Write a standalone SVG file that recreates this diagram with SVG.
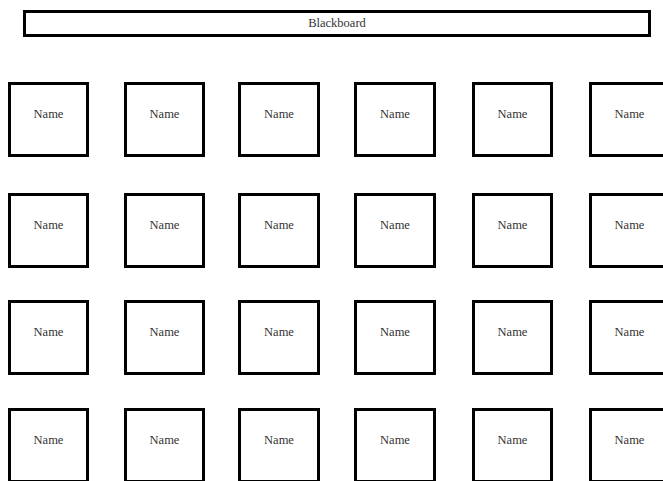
<svg xmlns="http://www.w3.org/2000/svg" width="663" height="481" viewBox="0 0 663 481">
<style>
.b{fill:#fff;stroke:#000;stroke-width:3}
.t{font-family:"Liberation Serif",serif;font-size:12.5px;fill:#333;text-anchor:middle}
</style>
<rect width="663" height="481" fill="#fff"/>
<g id="blackboard"><rect class="b" x="24.5" y="11.5" width="625" height="24" stroke-width="2.5"/><text class="t" x="337" y="27">Blackboard</text></g>
<g id="desks">
<g id="d11"><rect class="b" x="9.5" y="83.5" width="78" height="72"/><text class="t" x="48.5" y="117.5">Name</text></g>
<g id="d12"><rect class="b" x="125.5" y="83.5" width="78" height="72"/><text class="t" x="164.5" y="117.5">Name</text></g>
<g id="d13"><rect class="b" x="239.5" y="83.5" width="79" height="72"/><text class="t" x="279" y="117.5">Name</text></g>
<g id="d14"><rect class="b" x="355.5" y="83.5" width="79" height="72"/><text class="t" x="395" y="117.5">Name</text></g>
<g id="d15"><rect class="b" x="473.5" y="83.5" width="78" height="72"/><text class="t" x="512.5" y="117.5">Name</text></g>
<g id="d16"><rect class="b" x="590.5" y="83.5" width="78" height="72"/><text class="t" x="629.5" y="117.5">Name</text></g>
<g id="d21"><rect class="b" x="9.5" y="194.5" width="78" height="72"/><text class="t" x="48.5" y="228.5">Name</text></g>
<g id="d22"><rect class="b" x="125.5" y="194.5" width="78" height="72"/><text class="t" x="164.5" y="228.5">Name</text></g>
<g id="d23"><rect class="b" x="239.5" y="194.5" width="79" height="72"/><text class="t" x="279" y="228.5">Name</text></g>
<g id="d24"><rect class="b" x="355.5" y="194.5" width="79" height="72"/><text class="t" x="395" y="228.5">Name</text></g>
<g id="d25"><rect class="b" x="473.5" y="194.5" width="78" height="72"/><text class="t" x="512.5" y="228.5">Name</text></g>
<g id="d26"><rect class="b" x="590.5" y="194.5" width="78" height="72"/><text class="t" x="629.5" y="228.5">Name</text></g>
<g id="d31"><rect class="b" x="9.5" y="301.5" width="78" height="72"/><text class="t" x="48.5" y="335.5">Name</text></g>
<g id="d32"><rect class="b" x="125.5" y="301.5" width="78" height="72"/><text class="t" x="164.5" y="335.5">Name</text></g>
<g id="d33"><rect class="b" x="239.5" y="301.5" width="79" height="72"/><text class="t" x="279" y="335.5">Name</text></g>
<g id="d34"><rect class="b" x="355.5" y="301.5" width="79" height="72"/><text class="t" x="395" y="335.5">Name</text></g>
<g id="d35"><rect class="b" x="473.5" y="301.5" width="78" height="72"/><text class="t" x="512.5" y="335.5">Name</text></g>
<g id="d36"><rect class="b" x="590.5" y="301.5" width="78" height="72"/><text class="t" x="629.5" y="335.5">Name</text></g>
<g id="d41"><rect class="b" x="9.5" y="409.5" width="78" height="72"/><text class="t" x="48.5" y="443.5">Name</text></g>
<g id="d42"><rect class="b" x="125.5" y="409.5" width="78" height="72"/><text class="t" x="164.5" y="443.5">Name</text></g>
<g id="d43"><rect class="b" x="239.5" y="409.5" width="79" height="72"/><text class="t" x="279" y="443.5">Name</text></g>
<g id="d44"><rect class="b" x="355.5" y="409.5" width="79" height="72"/><text class="t" x="395" y="443.5">Name</text></g>
<g id="d45"><rect class="b" x="473.5" y="409.5" width="78" height="72"/><text class="t" x="512.5" y="443.5">Name</text></g>
<g id="d46"><rect class="b" x="590.5" y="409.5" width="78" height="72"/><text class="t" x="629.5" y="443.5">Name</text></g>
</g>
<g id="connectors"/>
</svg>
